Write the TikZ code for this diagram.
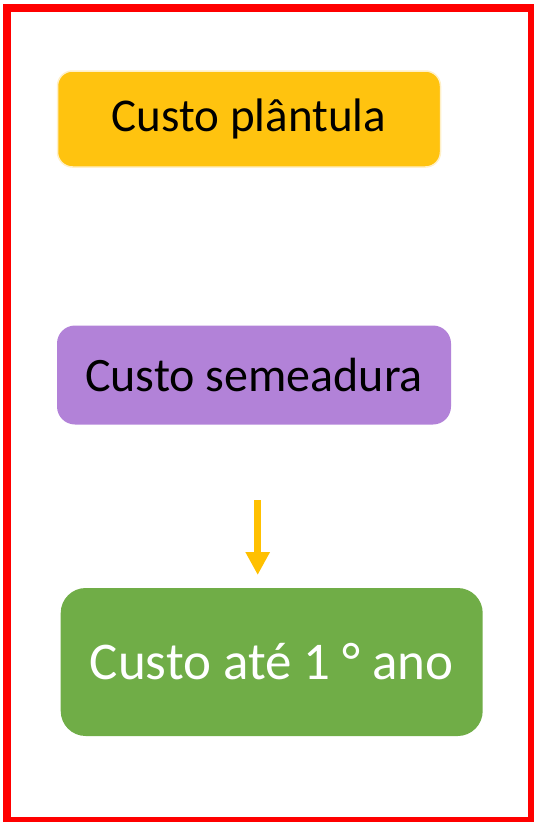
\documentclass[tikz,border=0pt]{standalone}
\usepackage{fontspec}
\setmainfont{Carlito}
\usetikzlibrary{arrows.meta}
\definecolor{frameRed}{HTML}{FF0000}
\definecolor{goldFill}{HTML}{FFC30F}
\definecolor{goldEdge}{HTML}{FFF0C8}
\definecolor{purpleFill}{HTML}{B282D8}
\definecolor{greenFill}{HTML}{70AD47}
\definecolor{arrowGold}{HTML}{FFC000}
\tikzset{
  costbox/.style={rectangle, inner sep=0pt, align=center,
    font=\fontsize{48}{58}\selectfont},
}
\begin{document}
\begin{tikzpicture}[x=1pt,y=-1pt]
\useasboundingbox (0,0) rectangle (533,822);
\draw[frameRed, line width=8pt] (7,8) rectangle (532,821);
\node[costbox, fill=goldFill, draw=goldEdge, line width=1.5pt, rounded corners=15pt,
  minimum width=383pt, minimum height=96pt, text=black, font=\fontsize{47}{56}\selectfont] (plantula) at (249,119) {Custo plântula};
\node[costbox, fill=purpleFill, rounded corners=18pt,
  minimum width=394pt, minimum height=99pt, text=black] (semeadura) at (254,375) {Custo semeadura};
\node[costbox, fill=greenFill, rounded corners=25pt,
  minimum width=422pt, minimum height=148pt, text=white, font=\fontsize{53}{63}\selectfont] (ano) at (271.7,662) {Custo até 1 ° ano};
\coordinate (arrowStart) at (257.7,500);
\coordinate (arrowEnd) at (257.7,575);
\draw[arrowGold, line width=7.5pt, -{Triangle[length=23pt,width=23pt]}] (arrowStart) -- (arrowEnd);
\end{tikzpicture}
\end{document}
